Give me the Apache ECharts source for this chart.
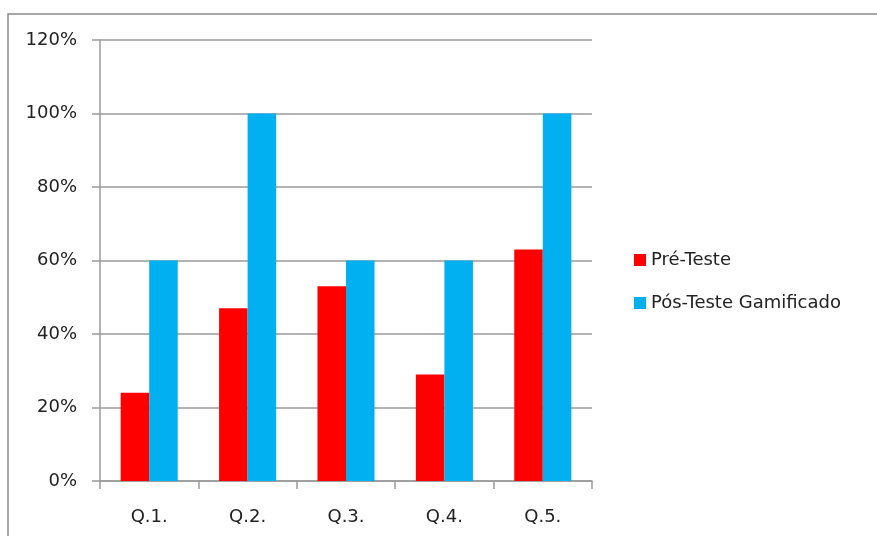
<!DOCTYPE html>
<html>
<head>
<meta charset="utf-8">
<script src="https://cdn.jsdelivr.net/npm/echarts@6/dist/echarts.min.js"></script>
<style>
  html, body { margin: 0; padding: 0; background: #fff; }
  #chart { width: 877px; height: 536px; }
</style>
</head>
<body>
<div id="chart"></div>
<script>
var categories = ['Q.1.', 'Q.2.', 'Q.3.', 'Q.4.', 'Q.5.'];
var preTeste = [24, 47, 53, 29, 63];
var posTeste = [60, 100, 60, 60, 100];
var seriesNames = ['Pré-Teste', 'Pós-Teste Gamificado'];

var chart = echarts.init(document.getElementById('chart'));
var fontFam = '"DejaVu Sans", Verdana, sans-serif';

var option = {
  animation: false,
  textStyle: { fontFamily: fontFam },
  graphic: [
    {
      type: 'rect',
      shape: { x: 8, y: 14, width: 900, height: 600 },
      style: { fill: 'none', stroke: '#8a8a8a', lineWidth: 1.5 },
      silent: true
    }
  ],
  grid: { left: 100, right: 285, top: 40, bottom: 55 },
  legend: {
    orient: 'vertical',
    left: 629,
    top: 246,
    itemWidth: 12,
    itemHeight: 12,
    itemGap: 25,
    icon: 'rect',
    textStyle: { fontFamily: fontFam, fontSize: 18, color: '#222' },
    data: seriesNames
  },
  xAxis: {
    type: 'category',
    data: categories,
    axisLine: { lineStyle: { color: '#9a9a9a', width: 1.5 } },
    axisTick: { show: true, length: 8, alignWithLabel: false, lineStyle: { color: '#9a9a9a', width: 1.5 } },
    axisLabel: { fontSize: 18, color: '#222', margin: 27, fontFamily: fontFam }
  },
  yAxis: {
    type: 'value',
    min: 0, max: 120, interval: 20,
    axisLine: { show: true, lineStyle: { color: '#9a9a9a', width: 1.5 } },
    axisTick: { show: true, length: 8, lineStyle: { color: '#9a9a9a', width: 1.5 } },
    splitLine: { lineStyle: { color: '#9a9a9a', width: 1.5 } },
    axisLabel: { fontSize: 18, color: '#222', margin: 23, fontFamily: fontFam, formatter: '{value}%' }
  },
  series: [
    {
      name: seriesNames[0],
      type: 'bar',
      data: preTeste,
      barGap: 0,
      barCategoryGap: '42%',
      itemStyle: { color: '#ff0000' }
    },
    {
      name: seriesNames[1],
      type: 'bar',
      data: posTeste,
      barGap: 0,
      barCategoryGap: '42%',
      itemStyle: { color: '#00b0f0' }
    }
  ]
};

chart.setOption(option);
</script>
</body>
</html>
